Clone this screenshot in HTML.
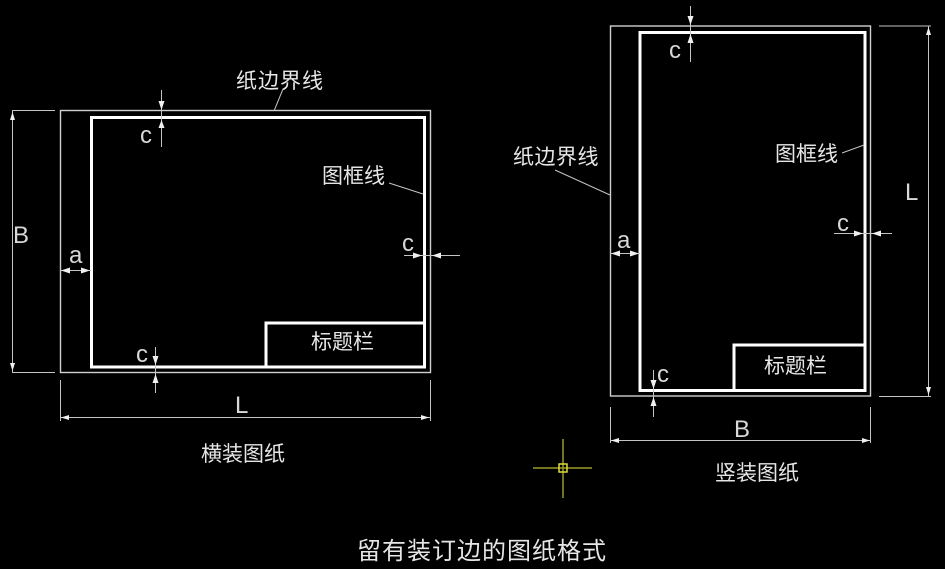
<!DOCTYPE html>
<html>
<head>
<meta charset="utf-8">
<style>
html,body{margin:0;padding:0;background:#000;}
body{width:945px;height:569px;overflow:hidden;}
svg{display:block;}
.cjk{font-family:"Liberation Sans","Noto Sans CJK SC","WenQuanYi Zen Hei",sans-serif;fill:#e6e6e6;}
.lat{font-family:"Liberation Sans",sans-serif;fill:#d8d8d8;font-size:24px;}
</style>
</head>
<body>
<svg width="945" height="569" viewBox="0 0 945 569" xmlns="http://www.w3.org/2000/svg">
<rect width="945" height="569" fill="#000"/>

<!-- ============ LEFT (横装) ============ -->
<!-- paper border -->
<rect x="60.5" y="110.5" width="370" height="262" fill="none" stroke="#cfcfcf" stroke-width="1.4"/>
<!-- frame -->
<rect x="91.5" y="117.5" width="333" height="249.5" fill="none" stroke="#fff" stroke-width="3"/>
<!-- title block -->
<polyline points="266,367 266,323 424,323" fill="none" stroke="#fff" stroke-width="3"/>

<g stroke="#c4c4c4" stroke-width="1" fill="none">
  <!-- B dim -->
  <line x1="12.5" y1="111" x2="12.5" y2="372"/>
  <line x1="12" y1="110.5" x2="55" y2="110.5"/>
  <line x1="12" y1="372.5" x2="55" y2="372.5"/>
  <!-- L dim -->
  <line x1="60" y1="417.5" x2="430" y2="417.5"/>
  <line x1="60.5" y1="380" x2="60.5" y2="421"/>
  <line x1="430.5" y1="380" x2="430.5" y2="421"/>
  <!-- top c -->
  <line x1="161.5" y1="90" x2="161.5" y2="147"/>
  <!-- bottom c -->
  <line x1="155.5" y1="347" x2="155.5" y2="393"/>
  <!-- right c -->
  <line x1="404" y1="255.5" x2="460" y2="255.5"/>
  <!-- a -->
  <line x1="60" y1="270.5" x2="91" y2="270.5"/>
  <!-- leaders -->
  <line x1="283" y1="89" x2="274" y2="111"/>
  <line x1="389" y1="183" x2="423" y2="194"/>
</g>
<g fill="#f0f0f0">
  <!-- B arrows -->
  <polygon points="12.5,112 10,120 15,120"/>
  <polygon points="12.5,371 10,363 15,363"/>
  <!-- L arrows -->
  <polygon points="61,417.5 69,415 69,420"/>
  <polygon points="429,417.5 421,415 421,420"/>
  <!-- top c arrows -->
  <polygon points="161.5,110 158.5,101 164.5,101"/>
  <polygon points="161.5,120 158.5,128 164.5,128"/>
  <!-- bottom c arrows -->
  <polygon points="155.5,365 152.5,356 158.5,356"/>
  <polygon points="155.5,374 152.5,383 158.5,383"/>
  <!-- right c arrows -->
  <polygon points="422,255.5 413,252.5 413,258.5"/>
  <polygon points="432,255.5 441,252.5 441,258.5"/>
  <!-- a arrows -->
  <polygon points="61,270.5 70,267.5 70,273.5"/>
  <polygon points="90,270.5 81,267.5 81,273.5"/>
</g>

<text class="cjk" x="236" y="88" font-size="21" style="letter-spacing:1px">纸边界线</text>
<text class="cjk" x="322" y="183" font-size="21">图框线</text>
<text class="cjk" x="311" y="349" font-size="21">标题栏</text>
<text class="cjk" x="201" y="461" font-size="21">横装图纸</text>

<text class="lat" x="140" y="143">c</text>
<text class="lat" x="136" y="362">c</text>
<text class="lat" x="402" y="251">c</text>
<text class="lat" x="69" y="263">a</text>
<text class="lat" x="13" y="243" font-size="25">B</text>
<text class="lat" x="235" y="413" font-size="25">L</text>

<!-- ============ RIGHT (竖装) ============ -->
<rect x="610.5" y="26" width="260" height="370" fill="none" stroke="#cfcfcf" stroke-width="1.4"/>
<rect x="640" y="32.5" width="225" height="358" fill="none" stroke="#fff" stroke-width="3"/>
<polyline points="734,390 734,345 865,345" fill="none" stroke="#fff" stroke-width="3"/>

<g stroke="#c4c4c4" stroke-width="1" fill="none">
  <!-- L dim -->
  <line x1="928.5" y1="26" x2="928.5" y2="396"/>
  <line x1="879" y1="26" x2="931" y2="26"/>
  <line x1="879" y1="396.5" x2="931" y2="396.5"/>
  <!-- B dim -->
  <line x1="610" y1="440.5" x2="871" y2="440.5"/>
  <line x1="610.5" y1="407" x2="610.5" y2="443"/>
  <line x1="870.5" y1="407" x2="870.5" y2="443"/>
  <!-- top c -->
  <line x1="690.5" y1="6" x2="690.5" y2="62"/>
  <!-- a -->
  <line x1="610" y1="253.5" x2="640" y2="253.5"/>
  <!-- right c -->
  <line x1="834" y1="233.5" x2="892" y2="233.5"/>
  <!-- bottom c -->
  <line x1="653.5" y1="370" x2="653.5" y2="417"/>
  <!-- leaders -->
  <line x1="555" y1="170" x2="610" y2="195"/>
  <line x1="842" y1="153" x2="864" y2="145"/>
</g>
<g fill="#f0f0f0">
  <polygon points="928.5,27 926,35 931,35"/>
  <polygon points="928.5,395 926,387 931,387"/>
  <polygon points="611,440.5 619,438 619,443"/>
  <polygon points="870,440.5 862,438 862,443"/>
  <polygon points="690.5,25 687.5,16 693.5,16"/>
  <polygon points="690.5,34 687.5,43 693.5,43"/>
  <polygon points="611,253.5 620,250.5 620,256.5"/>
  <polygon points="639,253.5 630,250.5 630,256.5"/>
  <polygon points="863,233.5 854,230.5 854,236.5"/>
  <polygon points="872,233.5 881,230.5 881,236.5"/>
  <polygon points="653.5,389 650.5,380 656.5,380"/>
  <polygon points="653.5,397 650.5,406 656.5,406"/>
</g>

<text class="cjk" x="513" y="164" font-size="21" style="letter-spacing:0.5px">纸边界线</text>
<text class="cjk" x="775" y="161" font-size="21">图框线</text>
<text class="cjk" x="764" y="373" font-size="21">标题栏</text>
<text class="cjk" x="715" y="480" font-size="21">竖装图纸</text>

<text class="lat" x="669" y="58">c</text>
<text class="lat" x="617" y="248">a</text>
<text class="lat" x="837" y="231">c</text>
<text class="lat" x="657" y="382">c</text>
<text class="lat" x="905" y="200" font-size="25">L</text>
<text class="lat" x="734" y="437" font-size="25">B</text>

<!-- crosshair -->
<g stroke="#9a9a28" stroke-width="1.5">
  <line x1="533" y1="468" x2="592" y2="468"/>
  <line x1="563" y1="439" x2="563" y2="498"/>
</g>
<rect x="559" y="464" width="8" height="8" fill="none" stroke="#dede3a" stroke-width="1.5"/>

<!-- title -->
<text class="cjk" x="357" y="559" font-size="24" style="letter-spacing:1px">留有装订边的图纸格式</text>
</svg>
</body>
</html>
